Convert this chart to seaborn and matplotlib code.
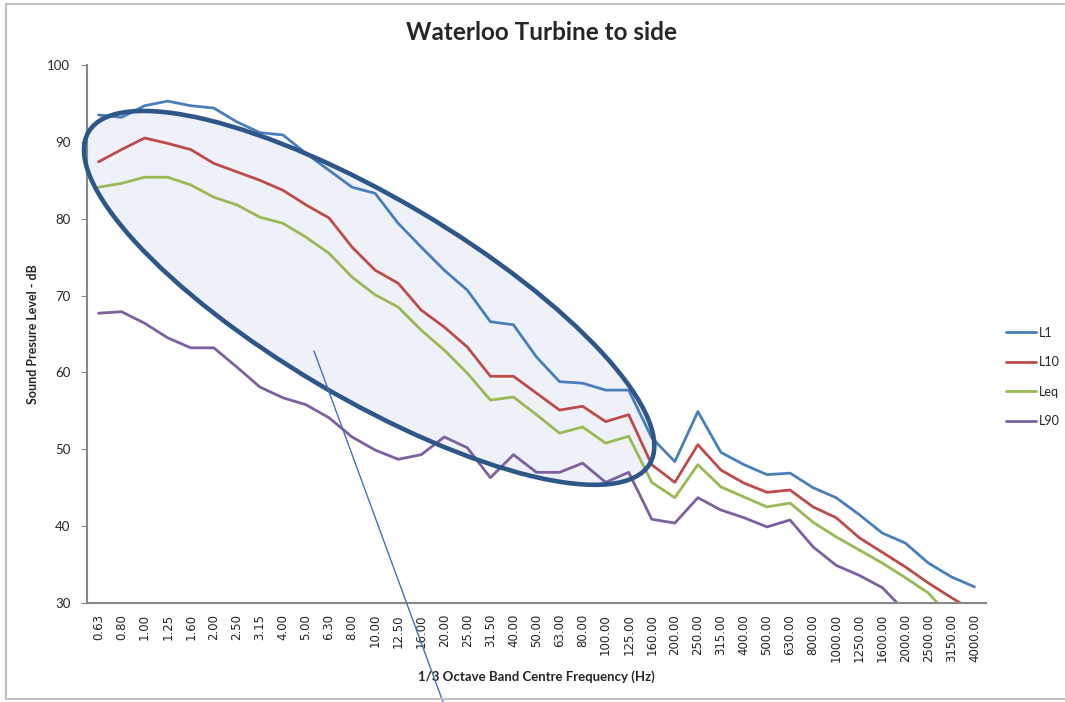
import matplotlib
matplotlib.use("Agg")
import matplotlib.pyplot as plt
import matplotlib.transforms as mtransforms
from matplotlib.patches import Ellipse
from matplotlib.lines import Line2D
import seaborn as sns
import pandas as pd
import numpy as np

# 1/3 octave band centre frequencies (Hz)
freqs = [0.63, 0.8, 1, 1.25, 1.6, 2, 2.5, 3.15, 4, 5, 6.3, 8, 10, 12.5, 16, 20, 25,
         31.5, 40, 50, 63, 80, 100, 125, 160, 200, 250, 315, 400, 500, 630, 800,
         1000, 1250, 1600, 2000, 2500, 3150, 4000]

L1 = [93.5, 93.2, 94.7, 95.3, 94.7, 94.4, 92.6, 91.2, 90.9, 88.5, 86.3, 84.1, 83.3,
      79.4, 76.3, 73.3, 70.7, 66.6, 66.2, 62.0, 58.8, 58.6, 57.7, 57.7, 51.5, 48.4,
      54.9, 49.6, 48.0, 46.7, 46.9, 45.0, 43.7, 41.5, 39.1, 37.8, 35.2, 33.4, 32.1]
L10 = [87.4, 89.0, 90.5, 89.8, 89.0, 87.2, 86.1, 85.0, 83.7, 81.8, 80.1, 76.3, 73.3,
       71.6, 68.1, 65.9, 63.3, 59.5, 59.5, 57.3, 55.1, 55.6, 53.6, 54.5, 48.0, 45.7,
       50.6, 47.3, 45.6, 44.4, 44.7, 42.5, 41.1, 38.5, 36.6, 34.7, 32.6, 30.7, 28.9]
Leq = [84.1, 84.6, 85.4, 85.4, 84.4, 82.8, 81.8, 80.2, 79.4, 77.6, 75.5, 72.4, 70.1,
       68.5, 65.5, 62.9, 59.9, 56.4, 56.8, 54.5, 52.1, 52.9, 50.8, 51.7, 45.7, 43.7,
       48.0, 45.1, 43.8, 42.5, 43.0, 40.5, 38.6, 36.9, 35.2, 33.3, 31.3, 28.0, 26.5]
L90 = [67.7, 67.9, 66.4, 64.5, 63.2, 63.2, 60.7, 58.1, 56.7, 55.8, 54.1, 51.6, 49.9,
       48.7, 49.3, 51.6, 50.2, 46.3, 49.3, 47.0, 47.0, 48.2, 45.7, 47.0, 40.9, 40.4,
       43.7, 42.1, 41.1, 39.9, 40.8, 37.3, 34.9, 33.6, 32.0, 28.9, 27.5, 26.5, 25.5]

series = {"L1": L1, "L10": L10, "Leq": Leq, "L90": L90}
colors = {"L1": "#4a7ebb", "L10": "#be4b48", "Leq": "#98b954", "L90": "#7d60a0"}

pos = np.arange(len(freqs))
df = pd.concat([pd.DataFrame({"pos": pos, "level": v, "Series": k})
                for k, v in series.items()], ignore_index=True)

sns.set_style("white")
plt.rcParams["font.family"] = ["Lato", "DejaVu Sans"]

fig = plt.figure(figsize=(10.65, 7.02), dpi=100)
ax = fig.add_axes([87 / 1065, 1 - 603 / 702, (986 - 87) / 1065, (603 - 65) / 702])

# highlight ellipse, fixed size in inches, centred in data coords
trans = fig.dpi_scale_trans + mtransforms.ScaledTranslation(11.74, 69.7, ax.transData)
ell_w, ell_h, ell_ang = 6.52, 2.0, -30.6
ax.add_artist(Ellipse((0, 0), ell_w, ell_h, angle=ell_ang, transform=trans,
                      facecolor="#eef2f8", edgecolor="none", zorder=0.5, clip_on=False))

sns.lineplot(data=df, x="pos", y="level", hue="Series", palette=colors,
             linewidth=2.0, sort=False, ax=ax)

ax.add_artist(Ellipse((0, 0), ell_w, ell_h, angle=ell_ang, transform=trans,
                      facecolor="none", edgecolor="#2f5688", linewidth=3.3,
                      zorder=4, clip_on=False))

ax.set_xlim(-0.5, len(freqs) - 0.5)
ax.set_ylim(30, 100)
ax.set_yticks(range(30, 101, 10))
ax.set_xticks(pos)
ax.set_xticklabels([f"{f:.2f}" for f in freqs], rotation=90, fontsize=8.5,
                   family="DejaVu Sans", color="#222222")
ax.tick_params(axis="y", labelsize=9.5, length=4, direction="out", left=True,
               color="#888888", pad=8)
ax.tick_params(axis="x", length=0, pad=8)
for s in ["top", "right"]:
    ax.spines[s].set_visible(False)
for s in ["left", "bottom"]:
    ax.spines[s].set_color("#888888")
    ax.spines[s].set_linewidth(1.5)

ax.set_xlabel("1/3 Octave Band Centre Frequency (Hz)", fontsize=9.5,
              fontweight="bold", labelpad=6)
ax.set_ylabel("Sound Presure Level - dB", fontsize=9, fontweight="bold", labelpad=6)
fig.suptitle("Waterloo Turbine to side", fontsize=17.5, fontweight="bold",
             x=0.508, y=0.97)

leg = ax.legend(loc="center left", bbox_to_anchor=(1.01, 0.42), frameon=False,
                fontsize=9, handlelength=2.4, handletextpad=0.2, labelspacing=1.4)
leg.set_title(None)

# pointer line
fig.add_artist(Line2D([314 / 1065, 443 / 1065], [1 - 351 / 702, 0.0],
                      transform=fig.transFigure, color="#3f72c0", linewidth=1))

# chart area border
bc = "#c0c0c0"
fig.add_artist(Line2D([6 / 1065, 1.0], [1 - 4 / 702] * 2, transform=fig.transFigure, color=bc, lw=1.5))
fig.add_artist(Line2D([6 / 1065] * 2, [1 - 4 / 702, 1 - 699 / 702], transform=fig.transFigure, color=bc, lw=1.5))
fig.add_artist(Line2D([6 / 1065, 1.0], [1 - 699 / 702] * 2, transform=fig.transFigure, color=bc, lw=1.5))

fig.savefig("out.png", dpi=100)
